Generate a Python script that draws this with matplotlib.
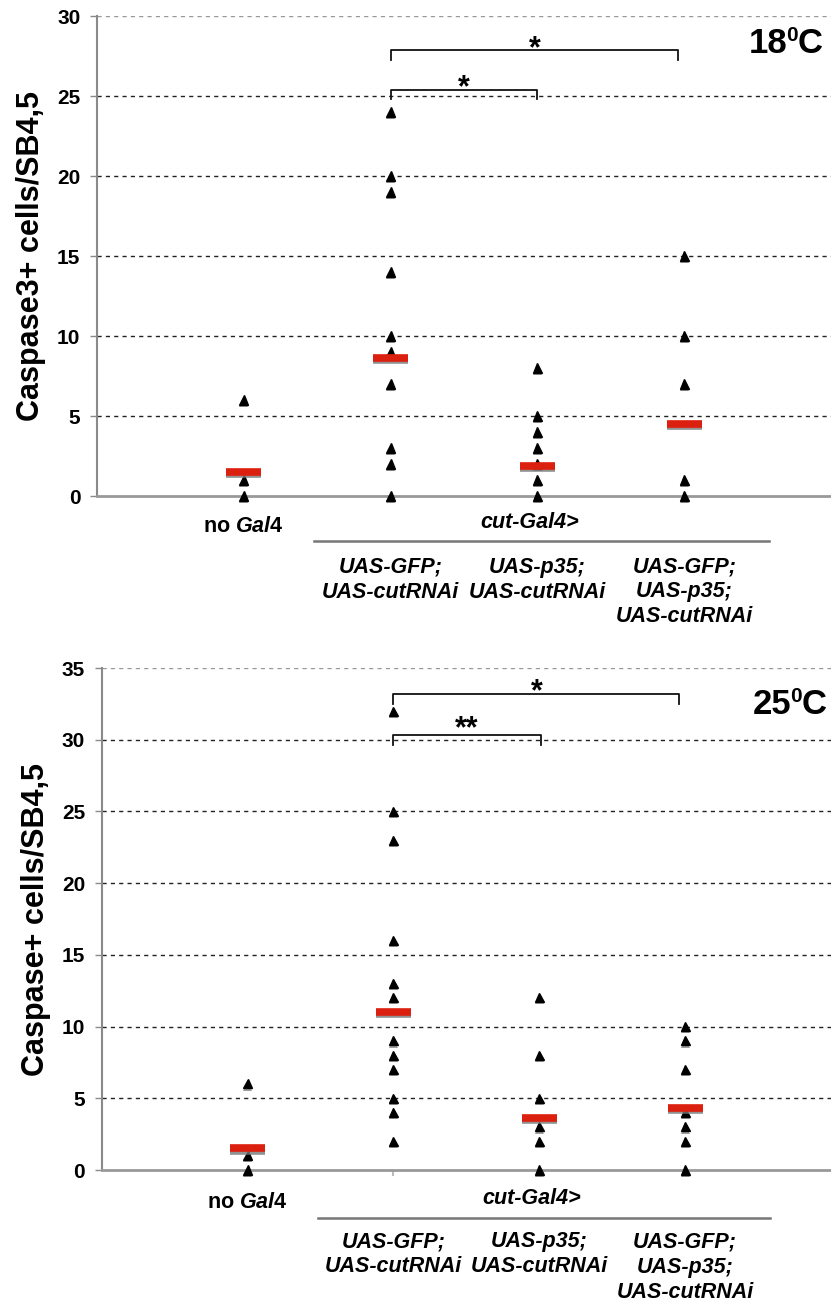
import matplotlib
matplotlib.use('Agg')
import matplotlib.pyplot as plt
import matplotlib.patheffects as pe
from matplotlib.transforms import ScaledTranslation

plt.rcParams['font.family'] = 'Liberation Sans'
plt.rcParams['mathtext.fontset'] = 'custom'
plt.rcParams['mathtext.rm'] = 'Liberation Sans:bold'
plt.rcParams['mathtext.bf'] = 'Liberation Sans:bold'
plt.rcParams['mathtext.it'] = 'Liberation Sans:italic:bold'

groups = [1, 2, 3, 4]
group_lines = [
    ['UAS-GFP;', 'UAS-cutRNAi'],
    ['UAS-p35;', 'UAS-cutRNAi'],
    ['UAS-GFP;', 'UAS-p35;', 'UAS-cutRNAi'],
]

# 18 C panel
pts_18 = [
    [6, 1, 0],
    [24, 20, 19, 14, 10, 9, 7, 3, 2, 0],
    [8, 5, 4, 3, 2, 1, 0],
    [15, 10, 7, 1, 0],
]
mean_18 = [1.5, 8.6, 1.9, 4.5]
sig_right_18 = [3.96, 3.0]
sig_y_18 = [27.85, 25.4]
sig_low_18 = [27.25, 24.8]
sig_text_18 = ['*', '*']
sig_base_18 = [27.4, 25.0]

# 25 C panel
pts_25 = [
    [6, 1, 0],
    [32, 25, 23, 16, 13, 12, 9, 8, 7, 5, 4, 2],
    [12, 8, 5, 3, 2, 0],
    [10, 9, 7, 4, 3, 2, 0],
]
mean_25 = [1.5, 11.0, 3.6, 4.3]
sig_right_25 = [3.96, 3.01]
sig_y_25 = [33.2, 30.35]
sig_low_25 = [32.5, 29.6]
sig_text_25 = ['*', '**']
sig_base_25 = [32.75, 30.15]

RED = '#dc2010'
GREY = '#8a8a8a'

fig = plt.figure(figsize=(8.31, 13.02), dpi=100)
W, H = 831.0, 1302.0


def px_down(ax, px):
    # x in data, y on the axis line shifted down by px pixels
    return ax.get_xaxis_transform() + ScaledTranslation(0, -px / 100.0, fig.dpi_scale_trans)


def panel(rect, pts, means, ymax, ylabel, temp, temp_x, temp_y,
          sig_right, sig_y, sig_low, sig_text, sig_base, offs):
    ax = fig.add_axes(rect)
    ax.set_xlim(0, 5)
    ax.set_ylim(0, ymax)
    ax.set_yticks(range(0, ymax + 1, 5))
    ax.set_xticks(groups)
    ax.set_xticklabels([])
    for t in ax.get_yticklabels():
        t.set_fontweight('bold')
    ax.tick_params(axis='y', direction='out', length=5, width=1, color=GREY,
                   labelsize=15, pad=7)
    ax.tick_params(axis='x', direction='out', length=4, width=1.5, color='#bbbbbb')
    for s in ['top', 'right']:
        ax.spines[s].set_visible(False)
    ax.spines['left'].set_color(GREY)
    ax.spines['left'].set_linewidth(1.5)
    ax.spines['bottom'].set_color('#999999')
    ax.spines['bottom'].set_linewidth(2)
    for v in range(5, ymax + 1, 5):
        ax.axhline(v, color='#222222' if v < ymax else '#999999',
                   lw=1, ls=(0, (3, 3)), zorder=1)

    shadow = [pe.SimplePatchShadow(offset=(0, -1.5), shadow_rgbFace='#777777', alpha=0.7),
              pe.Normal()]
    for g, vals in zip(groups, pts):
        ax.plot([g] * len(vals), vals, ls='none', marker='^', ms=6.5,
                color='black', zorder=3, path_effects=shadow, clip_on=False)
    ax.plot(groups, means, ls='none', marker='_', ms=25, mew=5.5, color=RED,
            zorder=4, path_effects=[pe.SimpleLineShadow(offset=(0, -1.5),
                                                        shadow_color='#777777', alpha=0.8),
                                    pe.Normal()])

    ax.set_ylabel(ylabel, fontsize=22, fontweight='bold', labelpad=8)

    # significance brackets
    for xr, y, lo, txt, ty in zip(sig_right, sig_y, sig_low, sig_text, sig_base):
        ax.plot([2, 2, xr, xr], [lo, y, y, lo], color='#111111', lw=1.3, zorder=5)
        ax.text((2 + xr) / 2, ty, txt, ha='center', va='baseline', fontsize=22,
                fontweight='bold', zorder=5)

    # temperature label: "18", small raised "0", "C"
    tkw = dict(xycoords=ax.get_yaxis_transform(), textcoords='offset points',
               ha='right', va='baseline', fontweight='bold')
    ax.annotate('C', xy=(temp_x, temp_y), xytext=(0, 0), fontsize=25, **tkw)
    ax.annotate('0', xy=(temp_x, temp_y), xytext=(-17.8, 8.6), fontsize=15, **tkw)
    ax.annotate(temp, xy=(temp_x, temp_y), xytext=(-25.4, 0), fontsize=25, **tkw)

    # category labels under the axis
    kw = dict(ha='center', va='center', fontsize=15.5, fontweight='bold')
    ax.text(1, 0, r'no $\mathit{Gal4}$', transform=px_down(ax, offs[0]), **kw)
    ax.text(2.95, 0, 'cut-Gal4>', transform=px_down(ax, offs[1]), fontstyle='italic', **kw)
    ax.plot([1.48, 4.58], [0, 0], color='#777777', lw=1.8, clip_on=False,
            transform=px_down(ax, offs[2]))
    for g, lines in zip(groups[1:], group_lines):
        for i, ln in enumerate(lines):
            ax.text(g, 0, ln, transform=px_down(ax, offs[3] + 25 * i),
                    fontstyle='italic', **kw)
    return ax


panel([97 / W, 1 - 496 / H, (W - 97) / W, 480 / H], pts_18, mean_18, 30,
      'Caspase3+ cells/SB4,5', '18', 0.989, 27.7,
      sig_right_18, sig_y_18, sig_low_18, sig_text_18, sig_base_18,
      [31, 26, 45, 71])
panel([101.7 / W, 1 - 1170 / H, (W - 101.7) / W, 502 / H], pts_25, mean_25, 35,
      'Caspase+ cells/SB4,5', '25', 0.994, 31.8,
      sig_right_25, sig_y_25, sig_low_25, sig_text_25, sig_base_25,
      [33, 29, 48, 72])

fig.savefig('out.png', dpi=100)
